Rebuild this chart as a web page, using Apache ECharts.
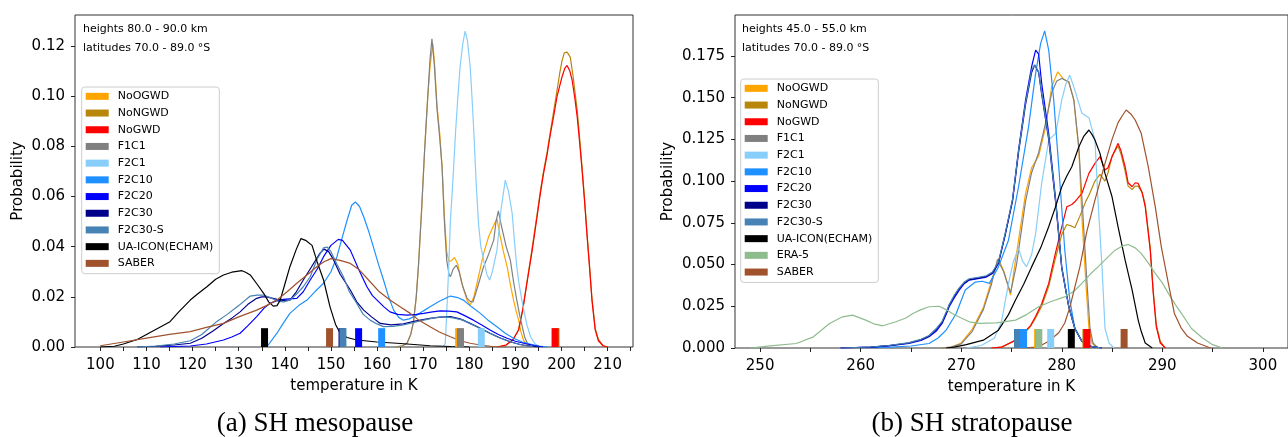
<!DOCTYPE html>
<html><head><meta charset="utf-8">
<script src="https://cdn.jsdelivr.net/npm/echarts@6/dist/echarts.min.js"></script>
<style>html,body{margin:0;padding:0;background:#fff}#c{width:1288px;height:437px}</style>
</head><body><div id="c"></div>
<script>
// ---------- names & colours ----------
const namesLeft = ['NoOGWD','NoNGWD','NoGWD','F1C1','F2C1','F2C10','F2C20','F2C30','F2C30-S','UA-ICON(ECHAM)','SABER'];
const namesRight = ['NoOGWD','NoNGWD','NoGWD','F1C1','F2C1','F2C10','F2C20','F2C30','F2C30-S','UA-ICON(ECHAM)','ERA-5','SABER'];
const colors = {'NoOGWD':'#ffa500','NoNGWD':'#b8860b','NoGWD':'#ff0000','F1C1':'#808080','F2C1':'#87cefa','F2C10':'#1e90ff','F2C20':'#0000ff','F2C30':'#00008b','F2C30-S':'#4682b4','UA-ICON(ECHAM)':'#000000','ERA-5':'#8fbc8f','SABER':'#a0522d'};

// ---------- tick values ----------
const xTicksLeft = [100,105,110,115,120,125,130,135,140,145,150,155,160,165,170,175,180,185,190,195,200,205,210,215];
const xLabelsLeft = [100,110,120,130,140,150,160,170,180,190,200,210];
const yTicksLeft = [0,0.02,0.04,0.06,0.08,0.10,0.12];
const xTicksRight = [250,255,260,265,270,275,280,285,290,295,300];
const xLabelsRight = [250,260,270,280,290,300];
const yTicksRight = [0,0.025,0.05,0.075,0.1,0.125,0.15,0.175];

// ---------- left panel (SH mesopause, 80-90 km) ----------
const L_NoOGWD = [[164,0],[165.5,0.0005],[166.5,0.0015],[167.3,0.005],[167.9,0.01],[168.5,0.02],[169,0.033],[169.7,0.056],[170.3,0.078],[171,0.1],[171.5,0.112],[172.1,0.1208],[172.5,0.112],[173,0.096],[173.6,0.085],[174.1,0.0717],[174.6,0.052],[175.1,0.038],[175.6,0.034],[176.2,0.0345],[176.8,0.0357],[177.5,0.033],[178.3,0.026],[179.5,0.0187],[180.2,0.0167],[181,0.02],[182,0.028],[183.1,0.0373],[184.2,0.044],[185.2,0.048],[186,0.0512],[186.6,0.045],[187.4,0.038],[188.2,0.032],[188.9,0.025],[189.6,0.0187],[190.2,0.014],[190.7,0.0107],[191.2,0.006],[191.8,0.0025],[192.5,0.0008],[193.5,0]];
const L_NoNGWD = [[186,0],[188,0.0008],[189.5,0.003],[190.7,0.007],[191.6,0.015],[192.5,0.026],[193.6,0.039],[194.7,0.053],[195.4,0.062],[196.1,0.07],[196.9,0.078],[197.6,0.086],[198.3,0.094],[199,0.102],[199.6,0.109],[200.1,0.114],[200.6,0.1172],[201.2,0.1175],[201.9,0.1155],[202.5,0.108],[203.4,0.0943],[203.9,0.084],[204.4,0.073],[205,0.059],[205.5,0.046],[206.1,0.032],[206.6,0.0195],[207.3,0.0075],[208,0.003],[209,0.0006],[210,0]];
const L_NoGWD = [[186,0],[188,0.0008],[189.5,0.003],[190.7,0.0068],[191.6,0.015],[192.5,0.0254],[193.6,0.038],[194.7,0.0519],[195.4,0.061],[196.1,0.0691],[196.9,0.077],[197.6,0.085],[198.3,0.092],[199,0.0996],[199.6,0.104],[200.1,0.1076],[200.7,0.111],[201.2,0.1122],[201.8,0.11],[202.3,0.1063],[202.9,0.099],[203.4,0.0917],[203.9,0.082],[204.4,0.0717],[205,0.058],[205.5,0.0452],[206.1,0.031],[206.6,0.0187],[207.3,0.0068],[208,0.0025],[209,0.0005],[210,0]];
const L_F1C1 = [[164,0],[165.5,0.0005],[166.5,0.0015],[167.3,0.005],[167.9,0.01],[168.5,0.02],[169,0.033],[169.7,0.056],[170.3,0.078],[171,0.1],[171.5,0.115],[171.9,0.1228],[172.4,0.113],[173,0.095],[173.6,0.083],[174.1,0.0717],[174.6,0.05],[175.1,0.0346],[175.6,0.029],[175.9,0.028],[176.5,0.031],[177.2,0.0326],[177.8,0.03],[178.6,0.024],[179.5,0.0195],[180.2,0.0182],[180.8,0.018],[181.5,0.022],[182.3,0.027],[183.1,0.032],[184.2,0.037],[185.3,0.0426],[185.8,0.05],[186.3,0.0542],[187,0.048],[188,0.04],[188.9,0.0346],[189.6,0.026],[190.3,0.0187],[191,0.012],[191.4,0.0088],[192,0.004],[192.6,0.0015],[193.5,0]];
const L_F2C1 = [[174.3,0],[174.8,0.0015],[175.1,0.0134],[175.5,0.03],[175.9,0.05],[176.5,0.068],[177,0.085],[177.5,0.099],[178,0.1116],[178.6,0.121],[179.1,0.1259],[179.6,0.122],[180.2,0.1116],[180.6,0.099],[181,0.085],[181.5,0.065],[182,0.0492],[182.5,0.04],[183.1,0.0346],[183.8,0.029],[184.4,0.0267],[185,0.03],[186,0.0386],[186.9,0.055],[187.8,0.0665],[188.5,0.062],[189.3,0.0532],[189.8,0.042],[190.3,0.032],[190.8,0.025],[191.4,0.0187],[192,0.013],[192.5,0.0088],[193.3,0.004],[194.3,0.0012],[195.5,0]];
const L_F2C10 = [[135.5,0],[136.4,0.0008],[137.3,0.003],[138.3,0.0055],[139.5,0.009],[141.1,0.0134],[143,0.0165],[144.8,0.0187],[146.5,0.022],[148.4,0.0254],[150,0.03],[151.3,0.036],[152.5,0.044],[153.5,0.0505],[154.5,0.0565],[155.3,0.0578],[156.2,0.056],[157.1,0.0519],[158.2,0.046],[159.2,0.0399],[160.3,0.033],[161.4,0.0267],[162.5,0.02],[163.6,0.0147],[164.7,0.0118],[165.7,0.0107],[167,0.0112],[168.6,0.0127],[170,0.0143],[171.5,0.016],[173.5,0.0182],[175.9,0.0203],[177.3,0.0198],[178.7,0.0187],[180.5,0.016],[182.4,0.0134],[184,0.0108],[186,0.0081],[187.8,0.0055],[189.6,0.0035],[191.5,0.002],[193.2,0.0012],[195,0.0004],[197,0]];
const L_F2C20 = [[113,0],[116,0.0002],[119.5,0.0004],[123,0.0012],[126.7,0.0028],[128.5,0.004],[130.3,0.0055],[132,0.0085],[133.9,0.0121],[135.5,0.0155],[136.8,0.0174],[138.3,0.0185],[139.7,0.019],[141,0.0192],[142.6,0.0194],[144,0.022],[145.5,0.0267],[147,0.031],[148.4,0.036],[150,0.0405],[151.6,0.0429],[152.5,0.0425],[154.2,0.0386],[156,0.031],[157.8,0.024],[159,0.0205],[160,0.0187],[161.5,0.016],[162.8,0.014],[164.5,0.013],[166.5,0.0127],[168.5,0.013],[170.1,0.0134],[172,0.014],[173.7,0.0144],[175.5,0.0143],[177.3,0.014],[179,0.0125],[180.9,0.0107],[182.7,0.0088],[184.5,0.0068],[186.3,0.005],[188.2,0.0035],[190,0.0023],[191.8,0.0015],[194,0.0006],[196,0]];
const L_F2C30 = [[108,0],[112,0.0003],[116,0.0008],[119.5,0.0015],[122,0.0035],[124.5,0.0065],[126.7,0.0094],[128.5,0.0115],[130.3,0.014],[132,0.017],[133.9,0.0194],[135,0.02],[136.1,0.02],[137.2,0.0195],[138.3,0.019],[139.7,0.0186],[141.1,0.0187],[142.5,0.022],[144,0.0267],[145.8,0.032],[147.6,0.0373],[148.5,0.039],[149.5,0.038],[150.5,0.035],[152,0.029],[154.2,0.0227],[155.6,0.018],[157.1,0.0147],[158.8,0.012],[160.7,0.0094],[163,0.0088],[165.7,0.0092],[168.5,0.0104],[171.5,0.0114],[173.7,0.0119],[175.9,0.0121],[178,0.0112],[180.2,0.0094],[182.4,0.0075],[184.5,0.0055],[186.6,0.0037],[188.9,0.0021],[191,0.001],[193,0.0004],[195,0]];
const L_F2C30S = [[108,0],[112,0.0004],[116,0.0012],[119.5,0.0025],[122,0.005],[125.2,0.0101],[127.5,0.013],[130,0.0165],[132.5,0.0203],[134,0.0207],[135.4,0.0207],[137,0.0195],[138.5,0.0183],[139.7,0.018],[141.1,0.0187],[142.5,0.021],[144,0.024],[145.5,0.028],[147,0.035],[148.4,0.0395],[149.2,0.0398],[150,0.038],[151.3,0.033],[152.7,0.028],[154,0.022],[155.6,0.0174],[157,0.013],[158.5,0.0107],[160,0.0092],[161.4,0.0081],[163.5,0.0082],[165.7,0.0088],[168,0.0098],[170.1,0.0107],[172.3,0.0116],[174.4,0.0121],[176.5,0.0116],[178.7,0.0107],[180.5,0.009],[182.4,0.0074],[184.2,0.0057],[186,0.0041],[187.8,0.0028],[189.6,0.0017],[191.5,0.0008],[194,0]];
const L_ICON = [[100,0],[103,0.0003],[105,0.0012],[108,0.003],[110.4,0.0054],[113,0.008],[115.1,0.0101],[117,0.014],[119.5,0.0187],[121,0.021],[123.1,0.024],[125,0.027],[126.7,0.0287],[128.5,0.0298],[130.7,0.0304],[131.5,0.0298],[132.5,0.0287],[134,0.025],[135.4,0.0214],[136.5,0.018],[137.5,0.0163],[138.3,0.0165],[139,0.0187],[140,0.025],[141.1,0.032],[142.5,0.039],[143.5,0.0432],[144.5,0.0425],[145.9,0.0405],[147,0.034],[148.4,0.0267],[149.8,0.016],[151,0.009],[152,0.0055],[153.5,0.0038],[155.6,0.0028],[160,0.002],[164.3,0.0015],[168,0.001],[171.5,0.0005],[176,0.0002],[180,0]];
const L_SABER = [[100,0.0005],[105,0.002],[110,0.0035],[115,0.005],[119.5,0.0061],[123,0.0078],[126.7,0.0094],[130,0.012],[133.9,0.0147],[136,0.0165],[138.3,0.0187],[140.5,0.022],[142.6,0.0254],[145,0.029],[146.9,0.032],[148.5,0.034],[150,0.0352],[152,0.0345],[154.2,0.0333],[156,0.031],[158.5,0.026],[160.5,0.022],[162.8,0.0187],[165,0.016],[167.2,0.0134],[169,0.0108],[171.5,0.0081],[173.5,0.006],[175.9,0.0041],[178,0.0025],[180.2,0.0015],[182.4,0.0008],[185,0.0002],[188,0]];
// mean markers: [temperature, marker height, series name]
const L_means = [[135.6,0.0075,'UA-ICON(ECHAM)'],[149.7,0.0075,'SABER'],[152.4,0.0075,'F2C30'],[152.6,0.0075,'F2C30-S'],[156.0,0.0075,'F2C20'],[161.0,0.0075,'F2C10'],[177.7,0.0075,'NoOGWD'],[178.1,0.0075,'F1C1'],[182.6,0.0075,'F2C1'],[198.8,0.0075,'NoNGWD'],[198.6,0.0075,'NoGWD']];

// ---------- right panel (SH stratopause, 45-55 km) ----------
const R_NoOGWD = [[268,0],[269,0.0005],[270,0.003],[271.1,0.0113],[272.2,0.0243],[273,0.04],[273.7,0.0537],[274.3,0.045],[274.9,0.0317],[275.4,0.0526],[276.4,0.0926],[277,0.108],[277.7,0.115],[278.4,0.1326],[279,0.1565],[279.6,0.1655],[280.2,0.161],[280.7,0.159],[281.2,0.1486],[281.7,0.1186],[282,0.0786],[282.4,0.0387],[282.7,0.0117],[283,0.003],[283.5,0]];
const R_NoNGWD = [[273,0],[274,0.0005],[275.4,0.0045],[276.2,0.0085],[276.9,0.013],[277.4,0.018],[278,0.025],[278.7,0.037],[279.3,0.052],[280,0.068],[280.5,0.074],[281,0.073],[281.3,0.072],[281.8,0.079],[282.4,0.088],[282.7,0.0915],[283.3,0.1],[283.8,0.104],[284.3,0.1],[284.6,0.105],[285,0.115],[285.6,0.121],[285.9,0.116],[286.3,0.106],[286.6,0.097],[287,0.095],[287.3,0.097],[287.6,0.097],[288,0.093],[288.3,0.086],[288.8,0.06],[289.1,0.034],[289.4,0.014],[289.8,0.004],[290.3,0]];
const R_NoGWD = [[273,0],[274,0.0005],[275.4,0.0047],[276.2,0.009],[276.9,0.0134],[277.4,0.019],[278,0.0265],[278.7,0.0387],[279.3,0.055],[280,0.0726],[280.5,0.0846],[281,0.086],[281.3,0.0876],[282,0.0926],[282.7,0.1046],[283.3,0.1106],[283.8,0.1146],[284.3,0.1066],[284.6,0.108],[285,0.1146],[285.6,0.1226],[285.9,0.118],[286.3,0.1086],[286.6,0.099],[287,0.0966],[287.3,0.099],[287.6,0.0986],[288,0.093],[288.3,0.0846],[288.8,0.0586],[289.1,0.0327],[289.4,0.0127],[289.8,0.003],[290.3,0]];
const R_F1C1 = [[268,0],[269,0.0005],[270,0.0025],[271.1,0.01],[272.2,0.023],[273,0.038],[273.6,0.053],[274.2,0.046],[274.9,0.033],[275.5,0.05],[276.4,0.088],[277,0.105],[277.7,0.117],[278.4,0.135],[279,0.153],[279.5,0.16],[280,0.1615],[280.7,0.1595],[281.2,0.1486],[281.7,0.12],[282.1,0.08],[282.5,0.04],[282.8,0.012],[283.1,0.003],[283.6,0]];
const R_F2C1 = [[270.5,0],[272,0.0015],[273.3,0.006],[274,0.0156],[274.7,0.0387],[275.2,0.052],[275.7,0.0597],[276.1,0.052],[276.5,0.0486],[277,0.056],[277.4,0.0686],[278,0.0986],[278.7,0.1246],[279.4,0.1286],[280,0.1486],[280.4,0.158],[280.8,0.1635],[281.3,0.1545],[282,0.1406],[282.7,0.138],[283.3,0.1246],[283.6,0.0886],[284,0.0486],[284.3,0.0117],[284.7,0.003],[285.2,0]];
const R_F2C10 = [[260,0],[263,0.0005],[265,0.0012],[266.8,0.0027],[267.7,0.006],[268.5,0.0107],[269.5,0.0207],[270.4,0.0347],[271.4,0.0395],[272.1,0.04],[272.8,0.0387],[273.7,0.0486],[274.7,0.0646],[275.7,0.0966],[276.7,0.1326],[277.4,0.1645],[277.9,0.1825],[278.3,0.19],[278.7,0.1785],[279.2,0.1486],[279.7,0.1086],[280.3,0.0586],[280.8,0.0287],[281.3,0.0117],[282,0.004],[283,0.0008],[284,0]];
const R_F2C20 = [[258,0],[261,0.0005],[262.8,0.0013],[264.8,0.0027],[266,0.0045],[266.8,0.0067],[267.5,0.01],[268.1,0.0147],[268.5,0.02],[268.8,0.0247],[269.3,0.03],[269.8,0.0347],[270.3,0.0385],[270.8,0.0407],[271.8,0.0417],[272.5,0.0425],[273.1,0.0447],[273.7,0.0507],[274.4,0.0686],[275.1,0.0886],[275.7,0.1186],[276.4,0.1486],[277,0.1685],[277.4,0.1785],[277.7,0.176],[278,0.1586],[278.7,0.1286],[279.4,0.0886],[280,0.0486],[280.7,0.0247],[281.3,0.0117],[282,0.004],[283,0.0008],[284,0]];
const R_F2C30 = [[258,0],[261,0.0005],[262.8,0.0014],[264.8,0.003],[266,0.005],[266.8,0.0072],[267.5,0.011],[268.1,0.0155],[268.5,0.021],[268.8,0.0257],[269.3,0.031],[269.8,0.0357],[270.3,0.039],[270.8,0.041],[271.8,0.042],[272.5,0.043],[273.1,0.045],[273.7,0.051],[274.4,0.0686],[275.1,0.088],[275.7,0.117],[276.4,0.146],[277,0.165],[277.3,0.1695],[277.7,0.165],[278,0.152],[278.7,0.125],[279.4,0.0866],[280,0.0476],[280.7,0.0247],[281.3,0.0117],[282,0.004],[283,0.0008],[284,0]];
const R_F2C30S = [[258,0],[261,0.0006],[262.8,0.0015],[264.8,0.0032],[266,0.0052],[266.8,0.0075],[267.5,0.0115],[268.1,0.016],[268.5,0.0215],[268.8,0.026],[269.3,0.0315],[269.8,0.036],[270.3,0.0395],[270.8,0.0415],[271.8,0.0425],[272.5,0.0433],[273.1,0.0455],[273.7,0.0515],[274.4,0.0695],[275.1,0.089],[275.7,0.118],[276.4,0.147],[277,0.1665],[277.3,0.1695],[277.7,0.1655],[278,0.153],[278.7,0.126],[279.4,0.0875],[280,0.048],[280.7,0.0247],[281.3,0.0117],[282,0.004],[283,0.0008],[284,0]];
const R_ICON = [[268.5,0],[269.3,0.0005],[270.5,0.002],[272.2,0.0047],[273.7,0.0107],[274.7,0.02],[275.4,0.0287],[276.2,0.038],[277,0.0486],[277.9,0.06],[278.7,0.0726],[279.4,0.085],[280,0.0966],[280.5,0.103],[281,0.1086],[281.7,0.1206],[282.2,0.127],[282.7,0.1306],[283,0.128],[283.3,0.1246],[283.8,0.1166],[284.3,0.1046],[285,0.0906],[285.6,0.0726],[286.3,0.0526],[287,0.0347],[287.6,0.0167],[287.9,0.01],[288.3,0.003],[289,0]];
const R_ERA5 = [[249,0],[251,0.0013],[253.6,0.0027],[255.3,0.0067],[256.9,0.0147],[258.2,0.0187],[259.2,0.0197],[260.5,0.0167],[261.3,0.0145],[262.2,0.0133],[263.5,0.0157],[264.5,0.018],[265.2,0.0207],[266,0.023],[266.8,0.0247],[267.8,0.025],[268.5,0.023],[269.1,0.0207],[270,0.018],[270.8,0.0157],[271.8,0.0147],[273.5,0.015],[275.4,0.0167],[276.5,0.02],[277.7,0.0247],[279,0.028],[280.3,0.0306],[281.2,0.034],[282,0.0387],[282.8,0.044],[283.6,0.0486],[284.5,0.054],[285.3,0.0586],[286,0.061],[286.6,0.062],[287.3,0.06],[287.9,0.0567],[288.6,0.051],[289.3,0.0447],[290,0.039],[290.6,0.0327],[291.3,0.026],[291.9,0.0207],[292.9,0.0117],[294,0.006],[295,0.002],[296,0]];
const R_SABER = [[276,0],[277.6,0.0005],[278.7,0.004],[279.7,0.0091],[280.3,0.015],[280.8,0.0243],[281.8,0.0486],[282.5,0.07],[283.3,0.0886],[284.3,0.1106],[285,0.125],[285.6,0.135],[286,0.139],[286.4,0.1426],[286.9,0.14],[287.3,0.1366],[287.9,0.1286],[288.6,0.1086],[289.3,0.0846],[289.9,0.0606],[290.6,0.0387],[291.2,0.0207],[291.9,0.0117],[292.5,0.007],[293.5,0.003],[294.8,0]];
const R_means = [[275.6,0.0114,'F2C20'],[275.6,0.0114,'F2C30'],[275.6,0.0114,'F2C30-S'],[276.2,0.0114,'F2C10'],[277.6,0.0114,'NoOGWD'],[277.7,0.0114,'F1C1'],[277.7,0.0114,'ERA-5'],[278.9,0.0114,'F2C1'],[280.95,0.0114,'UA-ICON(ECHAM)'],[282.4,0.0114,'NoNGWD'],[282.5,0.0114,'NoGWD'],[286.2,0.0114,'SABER']];

const leftData = {'NoOGWD':L_NoOGWD,'NoNGWD':L_NoNGWD,'NoGWD':L_NoGWD,'F1C1':L_F1C1,'F2C1':L_F2C1,'F2C10':L_F2C10,'F2C20':L_F2C20,'F2C30':L_F2C30,'F2C30-S':L_F2C30S,'UA-ICON(ECHAM)':L_ICON,'SABER':L_SABER};
const rightData = {'NoOGWD':R_NoOGWD,'NoNGWD':R_NoNGWD,'NoGWD':R_NoGWD,'F1C1':R_F1C1,'F2C1':R_F2C1,'F2C10':R_F2C10,'F2C20':R_F2C20,'F2C30':R_F2C30,'F2C30-S':R_F2C30S,'UA-ICON(ECHAM)':R_ICON,'ERA-5':R_ERA5,'SABER':R_SABER};

const FONT = 'DejaVu Sans';
const chart = echarts.init(document.getElementById('c'), null, {renderer:'canvas'});

function xAxis(gi, min, max, ticks, labels){
  return {type:'value', gridIndex:gi, min, max, name:'temperature in K', nameLocation:'middle', nameGap:32,
    nameTextStyle:{fontFamily:FONT, fontSize:15, color:'#000'},
    axisLine:{show:false}, splitLine:{show:false},
    axisTick:{show:true, inside:false, length:4, customValues:ticks, lineStyle:{color:'#222', width:1}},
    axisLabel:{customValues:labels, margin:11, fontFamily:FONT, fontSize:15, color:'#000', formatter:v=>String(Math.round(v))}};
}
function yAxis(gi, max, ticks, dec, gap){
  return {type:'value', gridIndex:gi, min:0, max, name:'Probability', nameLocation:'middle', nameGap:gap,
    nameTextStyle:{fontFamily:FONT, fontSize:15, color:'#000'},
    axisLine:{show:false}, splitLine:{show:false},
    axisTick:{show:true, inside:false, length:4, customValues:ticks, lineStyle:{color:'#222', width:1}},
    axisLabel:{customValues:ticks, margin:10, fontFamily:FONT, fontSize:15, color:'#000', formatter:v=>v.toFixed(dec)}};
}

const series = [];
function addLines(data, names, gi){
  names.forEach(n=>{
    series.push({type:'line', name:n, xAxisIndex:gi, yAxisIndex:gi, data:data[n], showSymbol:false,
      lineStyle:{color:colors[n], width:1.2}, itemStyle:{color:colors[n]}, z:2, silent:true});
  });
}
addLines(leftData, namesLeft, 0);
addLines(rightData, namesRight, 1);
function addMeans(means, gi){
  series.push({type:'custom', xAxisIndex:gi, yAxisIndex:gi, z:5, silent:true,
    data: means.map(m=>({value:[m[0], m[1]], itemStyle:{color:colors[m[2]]}})),
    renderItem:(params, api)=>{
      const x = api.value(0), h = api.value(1);
      const p0 = api.coord([x,0]), p1 = api.coord([x,h]);
      return {type:'rect', shape:{x:p0[0]-3.5, y:p1[1], width:7, height:p0[1]-p1[1]},
        style:{fill: api.visual('color')}};
    }});
}
addMeans(L_means, 0);
addMeans(R_means, 1);

function legend(names, left, top){
  return {data:names, left, top, orient:'vertical', icon:'rect', itemWidth:23, itemHeight:7, itemGap:0,
    padding:[1,6,2,4], backgroundColor:'rgba(255,255,255,0.8)', borderColor:'#cccccc', borderWidth:1, borderRadius:3,
    selectedMode:false,
    textStyle:{fontFamily:FONT, fontSize:11, color:'#000', lineHeight:16.7, padding:[0,0,0,4]}};
}

chart.setOption({
  animation:false,
  backgroundColor:'#fff',
  grid:[
    {left:75, top:15, width:558, height:332, show:true, borderColor:'#333', borderWidth:1, backgroundColor:'transparent'},
    {left:735, top:15, width:555, height:333, show:true, borderColor:'#333', borderWidth:1, backgroundColor:'transparent'}
  ],
  xAxis:[xAxis(0,94.5,215.5,xTicksLeft,xLabelsLeft), xAxis(1,247.5,302.5,xTicksRight,xLabelsRight)],
  yAxis:[yAxis(0,0.1323,yTicksLeft,2,49), yAxis(1,0.1995,yTicksRight,3,59)],
  legend:[legend(namesLeft,81.7,87), legend(namesRight,740.7,79)],
  series,
  graphic:[
    {type:'text', left:83, top:24, style:{text:'heights 80.0 - 90.0 km', font:'11px "DejaVu Sans"', fill:'#000'}},
    {type:'text', left:83, top:43, style:{text:'latitudes 70.0 - 89.0 °S', font:'11px "DejaVu Sans"', fill:'#000'}},
    {type:'text', left:742, top:24, style:{text:'heights 45.0 - 55.0 km', font:'11px "DejaVu Sans"', fill:'#000'}},
    {type:'text', left:742, top:43, style:{text:'latitudes 70.0 - 89.0 °S', font:'11px "DejaVu Sans"', fill:'#000'}},
    {type:'text', x:315, y:424, style:{text:'(a) SH mesopause', font:'27px "Liberation Serif"', fill:'#000', textAlign:'center', textVerticalAlign:'middle'}},
    {type:'text', x:972, y:424, style:{text:'(b) SH stratopause', font:'27px "Liberation Serif"', fill:'#000', textAlign:'center', textVerticalAlign:'middle'}}
  ]
});
</script></body></html>
